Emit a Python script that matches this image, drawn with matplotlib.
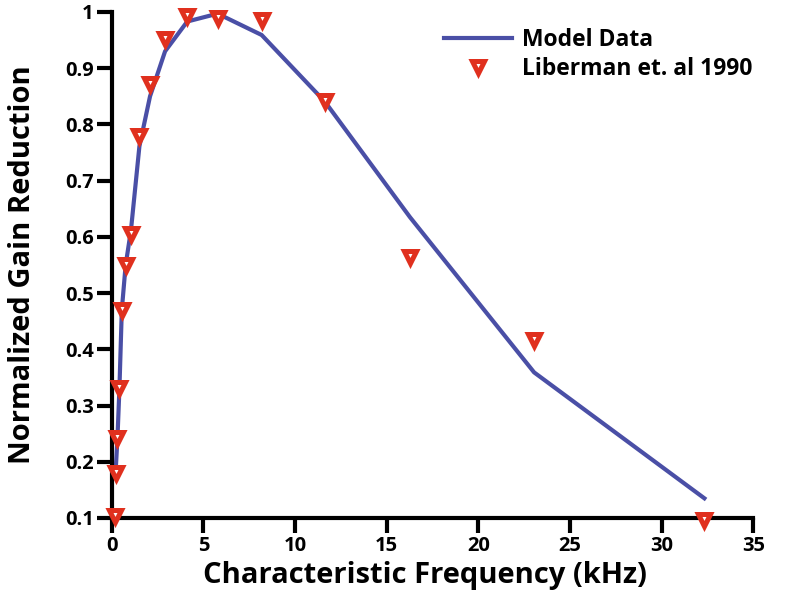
import matplotlib
matplotlib.use("Agg")
import matplotlib.pyplot as plt
from matplotlib.ticker import FormatStrFormatter

# model curve (kHz, normalized gain reduction)
model_cf = [0.2, 0.31, 0.42, 0.55, 0.76, 1.05, 1.51, 2.09, 2.91, 4.12, 5.78, 8.18, 11.64, 16.27, 23.04, 32.33]
model_gain = [0.175, 0.24, 0.33, 0.47, 0.55, 0.612, 0.761, 0.850, 0.930, 0.983, 0.997, 0.959, 0.840, 0.635, 0.359, 0.135]

# Liberman et al. 1990
lib_cf = [0.18, 0.22, 0.31, 0.42, 0.55, 0.76, 1.05, 1.51, 2.09, 2.91, 4.12, 5.78, 8.18, 11.64, 16.27, 23.06, 32.33]
lib_gain = [0.104, 0.180, 0.242, 0.331, 0.470, 0.550, 0.605, 0.780, 0.872, 0.952, 0.993, 0.989, 0.986, 0.842, 0.564, 0.417, 0.096]

xticks = [0, 5, 10, 15, 20, 25, 30, 35]
yticks = [0.1, 0.2, 0.3, 0.4, 0.5, 0.6, 0.7, 0.8, 0.9, 1.0]

plt.rcParams['font.family'] = ['Open Sans', 'DejaVu Sans']
plt.rcParams['font.weight'] = 'bold'

fig = plt.figure(figsize=(7.89, 6.04), dpi=100)
ax = fig.add_axes([0.1416, 0.1424, 0.8132, 0.8378])

ax.plot(model_cf, model_gain, color='#4a4fa6', lw=3, label='Model Data', zorder=2)
ax.plot(lib_cf, lib_gain, ls='none', marker='v', ms=8.5, mfc='white', mec='#e0301e',
        mew=3.6, label='Liberman et. al 1990', zorder=3, clip_on=False)

ax.set_xlim(0, 35)
ax.set_ylim(0.1, 1.0)
ax.set_xticks(xticks)
ax.set_yticks(yticks)
ax.yaxis.set_major_formatter(FormatStrFormatter('%g'))

for side in ['top', 'right']:
    ax.spines[side].set_visible(False)
for side in ['left', 'bottom']:
    ax.spines[side].set_linewidth(3)
ax.tick_params(direction='out', length=11, width=3, labelsize=14.5, pad=2)
for lab in ax.get_xticklabels() + ax.get_yticklabels():
    lab.set_fontweight('bold')

ax.set_xlabel('Characteristic Frequency (kHz)', fontsize=21, fontweight='bold', labelpad=3)
ax.xaxis.set_label_coords(0.488, -0.085)
ax.set_ylabel('Normalized Gain Reduction', fontsize=21, fontweight='bold')
ax.yaxis.set_label_coords(-0.116, 0.5)

leg = ax.legend(loc='upper right', bbox_to_anchor=(1.03, 1.01), frameon=False, fontsize=16.5,
                handlelength=3.0, handletextpad=0.4, labelspacing=0.25)
for t in leg.get_texts():
    t.set_fontweight('bold')

fig.savefig('out.png', dpi=100)
